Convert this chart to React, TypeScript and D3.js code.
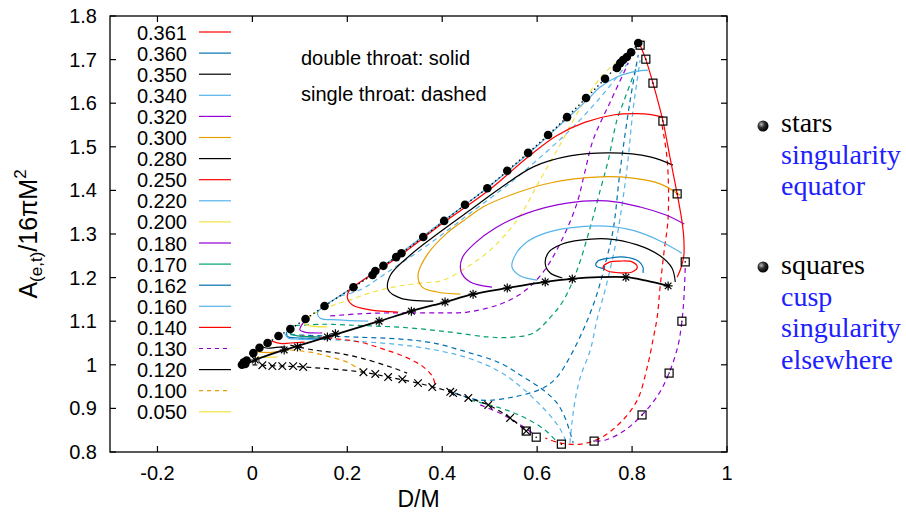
import React from "react";
import * as d3 from "d3";

type P = [number, number];

// ---------- ticks ----------
const xTicks = [-0.2, 0, 0.2, 0.4, 0.6, 0.8, 1];
const yTicks = [0.8, 0.9, 1.0, 1.1, 1.2, 1.3, 1.4, 1.5, 1.6, 1.7, 1.8];

// ---------- legend ----------
const legendLabels = ["0.361", "0.360", "0.350", "0.340", "0.320", "0.300", "0.280", "0.250", "0.220", "0.200", "0.180", "0.170", "0.162", "0.160", "0.140", "0.130", "0.120", "0.100", "0.050"];
const legendColorKeys = ["red", "blue", "black", "lightblue", "purple", "orange", "black", "red", "lightblue", "yellow", "purple", "green", "blue", "lightblue", "red", "purple", "black", "orange", "yellow"];
const legendDashed = [false, false, false, false, false, false, false, false, false, false, false, false, false, false, false, true, false, true, false];

// ---------- markers ----------
const starDots: P[] = [[-0.022, 1.0], [-0.018, 1.006], [-0.012, 1.01], [-0.015, 1.002], [0.002, 1.027], [0.015, 1.039], [0.032, 1.05], [0.055, 1.066], [0.08, 1.082], [0.112, 1.105], [0.152, 1.135], [0.213, 1.178], [0.253, 1.206], [0.259, 1.215], [0.276, 1.227], [0.303, 1.247], [0.314, 1.256], [0.36, 1.293], [0.404, 1.33], [0.448, 1.367], [0.495, 1.405], [0.537, 1.445], [0.581, 1.486], [0.623, 1.527], [0.663, 1.568], [0.703, 1.612], [0.743, 1.656], [0.768, 1.681], [0.775, 1.692], [0.781, 1.699], [0.789, 1.706], [0.798, 1.717], [0.813, 1.738]];
const cuspSquares: P[] = [[0.817, 1.733], [0.829, 1.701], [0.844, 1.646], [0.865, 1.559], [0.895, 1.392], [0.912, 1.236], [0.905, 1.1], [0.878, 0.981], [0.821, 0.885], [0.72, 0.825], [0.651, 0.818], [0.598, 0.834], [0.577, 0.848]];
const equatorAsterisks: P[] = [[0.006, 1.011], [0.067, 1.034], [0.095, 1.041], [0.158, 1.064], [0.175, 1.071], [0.267, 1.1], [0.335, 1.123], [0.406, 1.144], [0.465, 1.162], [0.537, 1.176], [0.617, 1.19], [0.674, 1.197], [0.787, 1.201], [0.876, 1.181]];
const elsewhereCrosses: P[] = [[0.021, 0.999], [0.042, 0.997], [0.063, 0.997], [0.086, 0.997], [0.107, 0.995], [0.234, 0.983], [0.259, 0.979], [0.286, 0.972], [0.316, 0.967], [0.349, 0.958], [0.379, 0.949], [0.417, 0.938], [0.423, 0.935], [0.455, 0.924], [0.497, 0.908], [0.543, 0.878], [0.577, 0.848]];

// ---------- lines ----------
const starBoundary: P[] = [[-0.015, 1.002], [0.002, 1.027], [0.015, 1.039], [0.032, 1.05], [0.055, 1.066], [0.08, 1.082], [0.112, 1.105], [0.152, 1.135], [0.213, 1.178], [0.253, 1.206], [0.276, 1.227], [0.303, 1.247], [0.36, 1.293], [0.404, 1.33], [0.448, 1.367], [0.495, 1.405], [0.537, 1.445], [0.581, 1.486], [0.623, 1.527], [0.663, 1.568], [0.703, 1.612], [0.743, 1.656], [0.775, 1.692], [0.798, 1.717], [0.813, 1.738]];
const equatorLine: P[] = [[-0.012, 1.002], [0.006, 1.011], [0.067, 1.034], [0.158, 1.064], [0.267, 1.1], [0.335, 1.123], [0.406, 1.144], [0.465, 1.162], [0.537, 1.176], [0.617, 1.19], [0.674, 1.197], [0.73, 1.201], [0.787, 1.201], [0.83, 1.193], [0.876, 1.181]];
const crossLine: P[] = [[0.0, 1.0], [0.021, 0.999], [0.063, 0.997], [0.107, 0.995], [0.234, 0.983], [0.286, 0.972], [0.349, 0.958], [0.417, 0.938], [0.455, 0.924], [0.497, 0.908], [0.543, 0.878], [0.577, 0.848]];
const rightEdge: P[] = [[0.815, 1.738], [0.829, 1.7], [0.844, 1.646], [0.865, 1.559], [0.88, 1.475], [0.895, 1.392], [0.905, 1.33], [0.909, 1.29], [0.909, 1.25], [0.903, 1.222], [0.895, 1.201]];

// double throat (solid)
const c361: P[] = [[0.739, 1.224], [0.754, 1.236], [0.775, 1.238], [0.8, 1.236], [0.811, 1.224], [0.8, 1.213], [0.775, 1.211], [0.749, 1.215]];
const c360: P[] = [[0.743, 1.22], [0.724, 1.227], [0.728, 1.238], [0.754, 1.245], [0.785, 1.247], [0.813, 1.238], [0.823, 1.224], [0.823, 1.211]];
const c350: P[] = [[0.653, 1.199], [0.627, 1.211], [0.617, 1.233], [0.625, 1.259], [0.653, 1.277], [0.691, 1.286], [0.747, 1.289], [0.811, 1.275], [0.859, 1.25], [0.884, 1.222], [0.891, 1.19]];
const c340: P[] = [[0.6, 1.194], [0.564, 1.204], [0.547, 1.224], [0.554, 1.252], [0.579, 1.282], [0.617, 1.302], [0.669, 1.314], [0.743, 1.318], [0.806, 1.307], [0.859, 1.284], [0.905, 1.256]];
const c320: P[] = [[0.505, 1.178], [0.459, 1.19], [0.44, 1.213], [0.442, 1.245], [0.469, 1.279], [0.512, 1.314], [0.579, 1.348], [0.663, 1.371], [0.747, 1.376], [0.817, 1.362], [0.87, 1.344], [0.91, 1.323]];
const c300: P[] = [[0.438, 1.162], [0.389, 1.167], [0.358, 1.178], [0.349, 1.206], [0.368, 1.252], [0.406, 1.298], [0.453, 1.337], [0.486, 1.362], [0.543, 1.389], [0.627, 1.417], [0.733, 1.431], [0.802, 1.428], [0.859, 1.415], [0.901, 1.389]];
const c280: P[] = [[0.381, 1.146], [0.312, 1.153], [0.286, 1.172], [0.291, 1.206], [0.333, 1.252], [0.396, 1.305], [0.459, 1.355], [0.522, 1.405], [0.592, 1.454], [0.669, 1.479], [0.754, 1.486], [0.838, 1.477], [0.886, 1.458]];
const c250: P[] = [[0.307, 1.121], [0.248, 1.126], [0.211, 1.137], [0.2, 1.155], [0.205, 1.172], [0.225, 1.188], [0.3, 1.242], [0.4, 1.324], [0.5, 1.402], [0.58, 1.476], [0.64, 1.525], [0.7, 1.556], [0.76, 1.573], [0.81, 1.576], [0.84, 1.574], [0.866, 1.568]];
const c220: P[] = [[0.244, 1.1], [0.179, 1.103], [0.143, 1.107], [0.137, 1.119], [0.147, 1.131], [0.2, 1.169], [0.3, 1.246], [0.4, 1.328], [0.5, 1.41], [0.6, 1.502], [0.66, 1.562], [0.705, 1.607], [0.733, 1.637], [0.768, 1.66], [0.802, 1.672], [0.834, 1.676]];
const c200: P[] = [[0.125, 1.113], [0.108, 1.099], [0.115, 1.091], [0.158, 1.087]];
const c180: P[] = [[0.108, 1.098], [0.1, 1.08], [0.11, 1.075], [0.147, 1.073]];
const c170: P[] = [[0.088, 1.09], [0.075, 1.078], [0.088, 1.068], [0.143, 1.064]];
const c162: P[] = [[0.072, 1.076], [0.074, 1.065], [0.09, 1.062], [0.15, 1.061]];
const c160: P[] = [[0.068, 1.072], [0.076, 1.061], [0.095, 1.059], [0.16, 1.058]];
const c140: P[] = [[0.04, 1.055], [0.058, 1.049], [0.08, 1.05], [0.11, 1.052]];
const c120: P[] = [[0.02, 1.042], [0.032, 1.038], [0.05, 1.04], [0.07, 1.041]];
const c100: P[] = [[0.01, 1.03], [0.035, 1.028], [0.055, 1.031], [0.075, 1.034]];
const c050: P[] = [[0.002, 1.018], [0.025, 1.017], [0.053, 1.018]];

// single throat (dashed)
const d200: P[] = [[0.13, 1.118], [0.171, 1.137], [0.206, 1.149], [0.248, 1.165], [0.305, 1.18], [0.36, 1.188], [0.402, 1.194], [0.459, 1.229], [0.501, 1.263], [0.558, 1.332], [0.606, 1.424], [0.648, 1.504], [0.691, 1.589], [0.733, 1.658], [0.785, 1.711]];
const d180: P[] = [[0.164, 1.112], [0.227, 1.117], [0.291, 1.119], [0.389, 1.119], [0.453, 1.121], [0.522, 1.139], [0.571, 1.167], [0.613, 1.213], [0.655, 1.293], [0.684, 1.371], [0.7, 1.44], [0.718, 1.516], [0.754, 1.603], [0.792, 1.692]];
const d170: P[] = [[0.09, 1.09], [0.15, 1.093], [0.206, 1.091], [0.326, 1.085], [0.417, 1.075], [0.495, 1.064], [0.543, 1.063], [0.592, 1.073], [0.627, 1.108], [0.655, 1.147], [0.684, 1.217], [0.712, 1.316], [0.733, 1.401], [0.75, 1.47], [0.768, 1.561], [0.781, 1.6], [0.811, 1.688]];
const d162a: P[] = [[0.08, 1.069], [0.206, 1.064], [0.312, 1.059], [0.381, 1.05], [0.453, 1.029], [0.522, 1.004], [0.571, 0.972], [0.613, 0.942], [0.642, 0.912], [0.659, 0.878], [0.669, 0.846], [0.676, 0.821]];
const d162b: P[] = [[0.427, 0.935], [0.48, 0.919], [0.549, 0.926], [0.613, 0.947], [0.642, 0.972], [0.669, 1.018], [0.697, 1.08], [0.722, 1.149], [0.743, 1.229], [0.76, 1.309], [0.775, 1.447], [0.796, 1.607], [0.813, 1.711]];
const d160a: P[] = [[0.08, 1.062], [0.206, 1.055], [0.347, 1.041], [0.453, 1.016], [0.52, 0.985], [0.565, 0.95], [0.6, 0.915], [0.63, 0.88], [0.65, 0.85], [0.662, 0.822]];
const d160b: P[] = [[0.669, 0.821], [0.674, 0.873], [0.68, 0.919], [0.691, 0.972], [0.712, 1.034], [0.726, 1.103], [0.747, 1.188], [0.768, 1.293], [0.789, 1.447], [0.802, 1.584], [0.817, 1.699]];
const d160c: P[] = [[0.185, 1.158], [0.227, 1.172], [0.291, 1.217], [0.375, 1.279], [0.459, 1.348], [0.543, 1.417], [0.617, 1.486], [0.68, 1.55], [0.743, 1.626], [0.796, 1.699]];
const d140a: P[] = [[0.101, 1.066], [0.164, 1.061], [0.227, 1.052], [0.276, 1.036], [0.322, 1.018], [0.358, 0.997], [0.379, 0.974], [0.385, 0.954]];
const d140b: P[] = [[0.863, 1.55], [0.874, 1.47], [0.876, 1.339], [0.867, 1.256], [0.859, 1.178], [0.853, 1.11], [0.844, 1.057], [0.832, 0.995], [0.811, 0.919], [0.775, 0.867], [0.733, 0.832], [0.691, 0.818], [0.648, 0.821], [0.617, 0.832]];
const d130a: P[] = [[0.912, 1.222], [0.909, 1.149], [0.905, 1.1], [0.897, 1.045], [0.878, 0.981], [0.855, 0.931], [0.821, 0.885], [0.785, 0.85], [0.743, 0.827], [0.72, 0.825]];
const d130b: P[] = [[0.48, 0.908], [0.522, 0.889], [0.558, 0.867], [0.596, 0.839]];
const d170b: P[] = [[0.459, 0.919], [0.522, 0.901], [0.575, 0.878], [0.617, 0.85], [0.642, 0.823]];
const d120: P[] = [[0.08, 1.045], [0.128, 1.034], [0.179, 1.027], [0.227, 1.016], [0.291, 0.995], [0.326, 0.981]];
const d100: P[] = [[0.08, 1.034], [0.122, 1.029], [0.164, 1.018], [0.2, 1.006], [0.227, 0.988]];

const COLORS: Record<string, string> = {
  red: "#ff0000",
  blue: "#0072b2",
  black: "#000000",
  lightblue: "#56b4e9",
  purple: "#9400d3",
  orange: "#e69f00",
  yellow: "#f0e442",
  green: "#009e73",
};

type Series = { pts: P[]; color: string; dashed: boolean; closed?: boolean; w?: number };

const dashedSeries: Series[] = [
  { pts: d160c, color: "lightblue", dashed: true },
  { pts: d200, color: "yellow", dashed: true },
  { pts: d180, color: "purple", dashed: true },
  { pts: d170, color: "green", dashed: true },
  { pts: d162a, color: "blue", dashed: true },
  { pts: d162b, color: "blue", dashed: true },
  { pts: d160a, color: "lightblue", dashed: true },
  { pts: d160b, color: "lightblue", dashed: true },
  { pts: d140a, color: "red", dashed: true },
  { pts: d140b, color: "red", dashed: true },
  { pts: d130a, color: "purple", dashed: true },
  { pts: d130b, color: "purple", dashed: true },
  { pts: d170b, color: "green", dashed: true },
  { pts: d120, color: "black", dashed: true },
  { pts: d100, color: "orange", dashed: true },
  { pts: crossLine, color: "black", dashed: true },
];

const solidSeries: Series[] = [
  { pts: c220, color: "lightblue", dashed: false },
  { pts: c250, color: "red", dashed: false },
  { pts: c280, color: "black", dashed: false },
  { pts: c300, color: "orange", dashed: false },
  { pts: c320, color: "purple", dashed: false },
  { pts: c340, color: "lightblue", dashed: false },
  { pts: c350, color: "black", dashed: false },
  { pts: c360, color: "blue", dashed: false },
  { pts: c361, color: "red", dashed: false, closed: true },
  { pts: c200, color: "yellow", dashed: false },
  { pts: c180, color: "purple", dashed: false },
  { pts: c170, color: "green", dashed: false },
  { pts: c162, color: "blue", dashed: false },
  { pts: c160, color: "lightblue", dashed: false },
  { pts: c140, color: "red", dashed: false },
  { pts: c120, color: "black", dashed: false },
  { pts: c100, color: "orange", dashed: false },
  { pts: c050, color: "yellow", dashed: false },
  { pts: rightEdge, color: "red", dashed: false },
  { pts: equatorLine, color: "black", dashed: false, w: 1.8 },
];

const SANS = "'Liberation Sans', Arial, Helvetica, sans-serif";
const SERIF = "'Liberation Serif', 'Times New Roman', serif";

export default function App() {
  const x = d3.scaleLinear().domain([-0.3, 1]).range([110, 727]);
  const y = d3.scaleLinear().domain([0.8, 1.8]).range([452, 16]);
  const line = d3.line<P>().x((d) => x(d[0])).y((d) => y(d[1])).curve(d3.curveCatmullRom.alpha(0.5));
  const closedLine = d3.line<P>().x((d) => x(d[0])).y((d) => y(d[1])).curve(d3.curveCatmullRomClosed.alpha(0.5));
  const lin = d3.line<P>().x((d) => x(d[0])).y((d) => y(d[1]));

  const [x0, x1] = x.range();
  const [yb, yt] = y.range();
  const fmt = (v: number) => (Math.abs(v) < 1e-9 ? "0" : String(+v.toFixed(1)));

  const renderSeries = (s: Series, i: number) => (
    <path
      key={i}
      d={(s.closed ? closedLine : line)(s.pts) || ""}
      fill="none"
      stroke={COLORS[s.color]}
      strokeWidth={s.w ?? 1.2}
      strokeDasharray={s.dashed ? "5,4" : undefined}
    />
  );

  const legendY = (i: number) => 32 + i * 21.1;

  return (
    <svg width={906} height={514} style={{ position: "absolute", left: 0, top: 0, background: "#fff" }}>
      <defs>
        <clipPath id="plotclip">
          <rect x={x0} y={yt} width={x1 - x0} height={yb - yt} />
        </clipPath>
        <radialGradient id="ball" cx="35%" cy="35%" r="65%">
          <stop offset="0%" stopColor="#bbbbbb" />
          <stop offset="45%" stopColor="#333333" />
          <stop offset="100%" stopColor="#000000" />
        </radialGradient>
      </defs>

      {/* curves */}
      <g clipPath="url(#plotclip)">
        {dashedSeries.map(renderSeries)}
        {solidSeries.map(renderSeries)}
        <path d={lin(starBoundary) || ""} fill="none" stroke="#000" strokeWidth={1.3} strokeDasharray="1.5,3" />
        {starDots.map((d, i) => (
          <circle key={"s" + i} cx={x(d[0])} cy={y(d[1])} r={4.3} fill="#000" />
        ))}
        {equatorAsterisks.map((d, i) => (
          <path
            key={"a" + i}
            transform={`translate(${x(d[0])},${y(d[1])})`}
            d="M-4.5,0H4.5M0,-4.5V4.5M-3.3,-3.3L3.3,3.3M-3.3,3.3L3.3,-3.3"
            stroke="#000"
            strokeWidth={1.2}
          />
        ))}
        {elsewhereCrosses.map((d, i) => (
          <path
            key={"x" + i}
            transform={`translate(${x(d[0])},${y(d[1])})`}
            d="M-3.8,-3.8L3.8,3.8M-3.8,3.8L3.8,-3.8"
            stroke="#000"
            strokeWidth={1.2}
          />
        ))}
        {cuspSquares.map((d, i) => (
          <g key={"q" + i} transform={`translate(${x(d[0])},${y(d[1])})`}>
            <rect x={-4} y={-4} width={8} height={8} fill="none" stroke="#000" strokeWidth={1.2} />
            <circle r={0.8} fill="#000" />
          </g>
        ))}
      </g>

      {/* frame */}
      <rect x={x0} y={yt} width={x1 - x0} height={yb - yt} fill="none" stroke="#000" strokeWidth={1.3} />
      {xTicks.map((t) => (
        <g key={"xt" + t}>
          <line x1={x(t)} x2={x(t)} y1={yb} y2={yb - 6} stroke="#000" strokeWidth={1.2} />
          <line x1={x(t)} x2={x(t)} y1={yt} y2={yt + 6} stroke="#000" strokeWidth={1.2} />
          <text x={x(t)} y={480} textAnchor="middle" fontFamily={SANS} fontSize={20} fill="#000">
            {fmt(t)}
          </text>
        </g>
      ))}
      {yTicks.map((t) => (
        <g key={"yt" + t}>
          <line x1={x0} x2={x0 + 6} y1={y(t)} y2={y(t)} stroke="#000" strokeWidth={1.2} />
          <line x1={x1} x2={x1 - 6} y1={y(t)} y2={y(t)} stroke="#000" strokeWidth={1.2} />
          <text x={97} y={y(t) + 7} textAnchor="end" fontFamily={SANS} fontSize={20} fill="#000">
            {fmt(t)}
          </text>
        </g>
      ))}

      {/* axis labels */}
      <text x={(x0 + x1) / 2} y={507} textAnchor="middle" fontFamily={SANS} fontSize={23} fill="#000">
        D/M
      </text>
      <text transform={`translate(37,${(yt + yb) / 2}) rotate(-90)`} textAnchor="middle" fontFamily={SANS} fontSize={25} fill="#000">
        A<tspan fontSize={17} dy={5}>(e,t)</tspan>
        <tspan dy={-5}>/16πM</tspan>
        <tspan fontSize={17} dy={-11}>2</tspan>
      </text>

      {/* legend */}
      {legendLabels.map((lab, i) => (
        <g key={"lg" + i}>
          <text x={187} y={legendY(i) + 7.5} textAnchor="end" fontFamily={SANS} fontSize={20} fill="#000">
            {lab}
          </text>
          <line
            x1={199}
            x2={231}
            y1={legendY(i)}
            y2={legendY(i)}
            stroke={COLORS[legendColorKeys[i]]}
            strokeWidth={1.2}
            strokeDasharray={legendDashed[i] ? "4,4" : undefined}
          />
        </g>
      ))}

      {/* notes */}
      <text x={301} y={65} fontFamily={SANS} fontSize={20} fill="#000">double throat: solid</text>
      <text x={301} y={101} fontFamily={SANS} fontSize={20} fill="#000">single throat: dashed</text>

      {/* right annotations */}
      <circle cx={763} cy={126} r={5.5} fill="url(#ball)" />
      <text x={781} y={132} fontFamily={SERIF} fontSize={28} fill="#000">stars</text>
      <text x={781} y={164} fontFamily={SERIF} fontSize={28} fill="#2020ff">singularity</text>
      <text x={781} y={195} fontFamily={SERIF} fontSize={28} fill="#2020ff">equator</text>
      <circle cx={763} cy={267} r={5.5} fill="url(#ball)" />
      <text x={781} y={274} fontFamily={SERIF} fontSize={28} fill="#000">squares</text>
      <text x={781} y={306} fontFamily={SERIF} fontSize={28} fill="#2020ff">cusp</text>
      <text x={781} y={337} fontFamily={SERIF} fontSize={28} fill="#2020ff">singularity</text>
      <text x={781} y={369} fontFamily={SERIF} fontSize={28} fill="#2020ff">elsewhere</text>
    </svg>
  );
}
